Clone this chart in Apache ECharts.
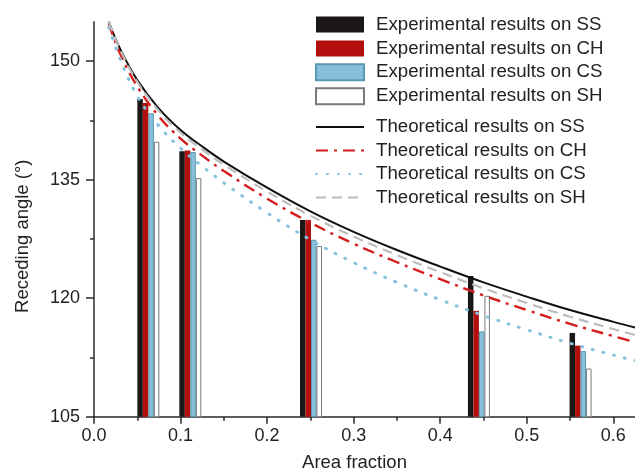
<!DOCTYPE html>
<html>
<head>
<meta charset="utf-8">
<script src="https://cdn.jsdelivr.net/npm/echarts@6/dist/echarts.min.js"></script>
<style>html,body{margin:0;padding:0;background:#fff}#c{width:635px;height:473px}</style>
</head>
<body>
<div id="c"></div>
<script>
// ---- data ----
const xTickValues = [0, 0.1, 0.2, 0.3, 0.4, 0.5, 0.6];
const xMinorTickValues = [0.05, 0.15, 0.25, 0.35, 0.45, 0.55];
const yTickValues = [105, 120, 135, 150];
const yMinorTickValues = [112.5, 127.5, 142.5];

const areaFractions = [0.0628, 0.1113, 0.2507, 0.4447, 0.5621];
const expSS = [145.2, 138.6, 129.9, 122.8, 115.6];
const expCH = [144.7, 138.7, 129.9, 118.4, 114.0];
const expCS = [143.4, 138.5, 127.4, 115.8, 113.3];
const expSH = [139.8, 135.2, 126.6, 120.3, 111.1];

const theoryX = [0.017, 0.03, 0.05, 0.075, 0.1, 0.125, 0.15, 0.2, 0.25, 0.3, 0.35, 0.4, 0.45, 0.5, 0.55, 0.6, 0.625];
const theorySS = [155.0, 151.6, 147.6, 144.0, 141.3, 139.2, 137.3, 134.0, 131.0, 128.4, 126.1, 124.0, 122.0, 120.2, 118.5, 117.0, 116.3];
const theoryCH = [154.8, 151.0, 146.8, 143.0, 140.2, 138.05, 136.1, 132.6, 129.55, 126.9, 124.55, 122.4, 120.35, 118.5, 116.75, 115.2, 114.45];
const theoryCS = [154.3, 150.3, 145.6, 141.8, 139.0, 136.7, 134.6, 130.8, 127.4, 124.5, 122.0, 119.8, 117.8, 116.0, 114.3, 112.8, 112.1];
const theorySH = [155.0, 151.5, 147.4, 143.7, 140.95, 138.8, 136.9, 133.5, 130.45, 127.8, 125.45, 123.3, 121.25, 119.4, 117.65, 116.1, 115.35];

const barNames = ['Experimental results on SS', 'Experimental results on CH', 'Experimental results on CS', 'Experimental results on SH'];
const lineNames = ['Theoretical results on SS', 'Theoretical results on CH', 'Theoretical results on CS', 'Theoretical results on SH'];

// ---- chart ----
const pair = (xs, ys) => xs.map((x, i) => [x, ys[i]]);
const FONT = '"Liberation Sans", Arial, sans-serif';
const AX = '#2a2a2a';

const chart = echarts.init(document.getElementById('c'), null, {renderer: 'canvas'});

const barStyles = [
  {color: '#1c1717'},
  {color: '#b30f0f'},
  {color: '#88bfdc', borderColor: '#5a9aac', borderWidth: 1},
  {color: '#ffffff', borderColor: '#7a7a7a', borderWidth: 1}
];
const barData = [expSS, expCH, expCS, expSH];

const lineStyles = [
  {color: '#111111', width: 2, type: 'solid'},
  {color: '#d41c1c', width: 2.4, type: [12, 6, 3, 6]},
  {color: '#86c2de', width: 3, type: [1, 10], cap: 'round'},
  {color: '#bdbdbd', width: 2.2, type: [10, 6]}
];
const lineData = [theorySS, theoryCH, theoryCS, theorySH];

const series = [];
barNames.forEach((n, i) => {
  series.push({
    name: n, type: 'bar', xAxisIndex: 0, yAxisIndex: 0,
    barWidth: 5.5, barGap: '0%',
    itemStyle: barStyles[i],
    data: pair(areaFractions, barData[i]),
    z: 2
  });
});
lineNames.forEach((n, i) => {
  series.push({
    name: n, type: 'line', xAxisIndex: 0, yAxisIndex: 0,
    smooth: 0.4, symbol: 'none', clip: true,
    lineStyle: lineStyles[i],
    itemStyle: {color: lineStyles[i].color},
    data: pair(theoryX, lineData[i]),
    z: 3
  });
});

const legendText = {fontFamily: FONT, fontSize: 18.7, color: '#222', padding: [0, 0, 0, 7]};

chart.setOption({
  animation: false,
  backgroundColor: '#fff',
  grid: {left: 94, top: 21.7, right: 0, bottom: 56.3, containLabel: false, outerBoundsMode: 'none'},
  legend: [
    {
      data: barNames, orient: 'vertical', left: 315, top: 15,
      itemWidth: 48, itemHeight: 16, itemGap: 4.9, icon: 'rect',
      textStyle: legendText, padding: 0, selectedMode: false
    },
    {
      data: lineNames, orient: 'vertical', left: 315, top: 117.5,
      itemWidth: 48, itemHeight: 16, itemGap: 4.5,
      itemStyle: {opacity: 0},
      textStyle: legendText, padding: 0, selectedMode: false
    }
  ],
  xAxis: [
    {
      type: 'value', min: 0, max: 0.625, interval: 0.1,
      name: 'Area fraction', nameLocation: 'middle', nameGap: 37,
      nameTextStyle: {fontFamily: FONT, fontSize: 18.5, color: '#222', padding: [0, 20, 0, 0]},
      axisLine: {show: true, onZero: false, lineStyle: {color: AX, width: 1.5}},
      axisTick: {show: true, inside: false, length: 7, customValues: xTickValues, lineStyle: {color: AX, width: 1.5}},
      axisLabel: {fontFamily: FONT, fontSize: 18, color: '#222', margin: 10, customValues: xTickValues,
        formatter: v => v.toFixed(1)},
      splitLine: {show: false}
    },
    {
      type: 'value', min: 0, max: 0.625, position: 'bottom',
      axisLine: {show: false},
      axisTick: {show: true, inside: false, length: 4, customValues: xMinorTickValues, lineStyle: {color: AX, width: 1.5}},
      axisLabel: {show: false},
      splitLine: {show: false}
    }
  ],
  yAxis: [
    {
      type: 'value', min: 105, max: 155, interval: 15,
      name: 'Receding angle (°)', nameLocation: 'middle', nameGap: 62,
      nameTextStyle: {fontFamily: FONT, fontSize: 18.5, color: '#222', padding: [0, 34, 0, 0]},
      axisLine: {show: true, onZero: false, lineStyle: {color: AX, width: 1.5}},
      axisTick: {show: true, inside: false, length: 8, customValues: yTickValues, lineStyle: {color: AX, width: 1.5}},
      axisLabel: {fontFamily: FONT, fontSize: 18, color: '#222', margin: 14, customValues: yTickValues},
      splitLine: {show: false}
    },
    {
      type: 'value', min: 105, max: 155, position: 'left',
      axisLine: {show: false},
      axisTick: {show: true, inside: false, length: 4, customValues: yMinorTickValues, lineStyle: {color: AX, width: 1.5}},
      axisLabel: {show: false},
      splitLine: {show: false}
    }
  ],
  series: series
});
</script>
</body>
</html>
